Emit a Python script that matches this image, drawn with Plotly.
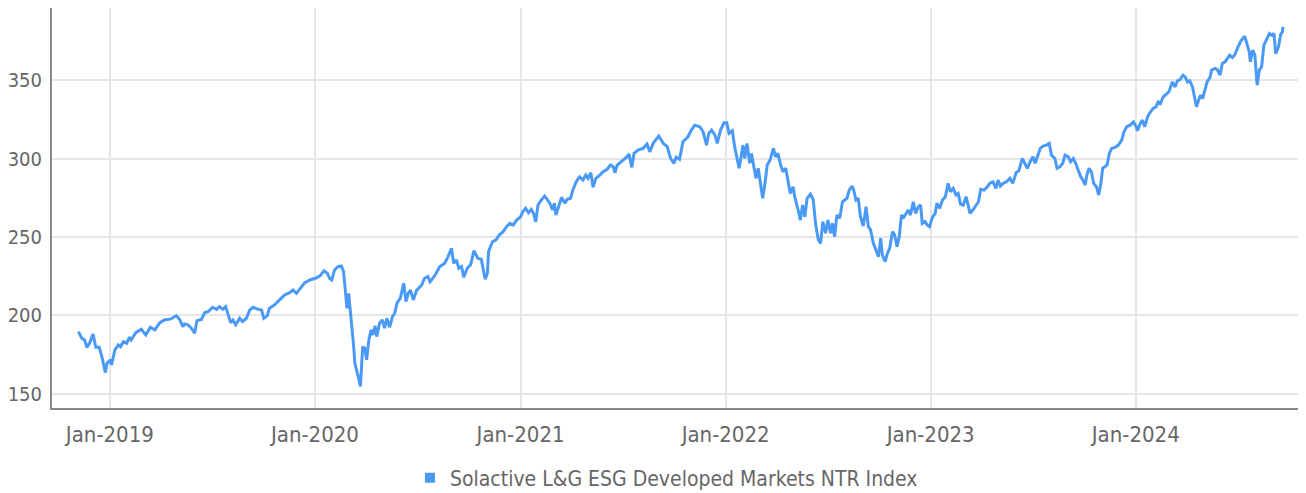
import plotly.graph_objects as go

SERIES_NAME = "Solactive L&G ESG Developed Markets NTR Index"

dates = [
    "2018-11-06", "2018-11-12", "2018-11-17", "2018-11-21", "2018-11-26", "2018-12-02", "2018-12-07", "2018-12-13",
    "2018-12-17", "2018-12-21", "2018-12-24", "2018-12-27", "2019-01-02", "2019-01-04", "2019-01-10", "2019-01-16",
    "2019-01-20", "2019-01-25", "2019-01-31", "2019-02-05", "2019-02-08", "2019-02-16", "2019-02-26", "2019-03-06",
    "2019-03-14", "2019-03-22", "2019-03-31", "2019-04-08", "2019-04-20", "2019-04-29", "2019-05-05", "2019-05-11",
    "2019-05-14", "2019-05-20", "2019-05-26", "2019-06-01", "2019-06-05", "2019-06-13", "2019-06-19", "2019-06-25",
    "2019-07-03", "2019-07-10", "2019-07-15", "2019-07-21", "2019-07-26", "2019-08-04", "2019-08-08", "2019-08-13",
    "2019-08-20", "2019-08-25", "2019-09-01", "2019-09-07", "2019-09-13", "2019-09-22",
    "2019-09-28", "2019-10-02", "2019-10-08", "2019-10-12", "2019-10-21", "2019-10-30", "2019-11-08", "2019-11-17",
    "2019-11-23", "2019-11-29", "2019-12-05", "2019-12-14", "2019-12-23", "2020-01-02", "2020-01-10", "2020-01-17",
    "2020-01-23", "2020-01-27", "2020-01-31", "2020-02-05", "2020-02-11", "2020-02-17", "2020-02-21", "2020-02-24",
    "2020-02-27", "2020-03-01", "2020-03-04", "2020-03-07", "2020-03-10", "2020-03-12", "2020-03-15", "2020-03-18",
    "2020-03-22", "2020-03-24", "2020-03-26", "2020-03-30", "2020-04-02", "2020-04-06", "2020-04-10", "2020-04-13",
    "2020-04-17", "2020-04-20", "2020-04-25", "2020-04-30", "2020-05-04", "2020-05-08", "2020-05-13", "2020-05-18",
    "2020-05-22", "2020-05-26", "2020-06-01", "2020-06-07", "2020-06-11", "2020-06-15", "2020-06-19", "2020-06-24",
    "2020-06-30",
    "2020-07-09", "2020-07-14", "2020-07-20", "2020-07-24", "2020-08-01", "2020-08-10", "2020-08-19", "2020-08-25",
    "2020-08-31", "2020-09-04", "2020-09-09", "2020-09-13", "2020-09-18", "2020-09-22", "2020-09-28", "2020-10-04",
    "2020-10-10", "2020-10-17", "2020-10-23", "2020-10-27", "2020-10-30", "2020-11-03", "2020-11-05", "2020-11-12",
    "2020-11-18", "2020-11-24", "2020-12-01", "2020-12-07", "2020-12-13", "2020-12-19", "2020-12-25", "2021-01-01",
    "2021-01-05", "2021-01-10", "2021-01-15", "2021-01-20", "2021-01-24", "2021-01-28", "2021-02-01", "2021-02-07",
    "2021-02-13", "2021-02-18", "2021-02-22", "2021-02-27", "2021-03-02", "2021-03-05", "2021-03-10", "2021-03-15",
    "2021-03-21", "2021-03-25", "2021-03-31",
    "2021-04-04", "2021-04-10", "2021-04-16", "2021-04-22", "2021-04-27", "2021-05-01", "2021-05-06", "2021-05-10",
    "2021-05-15", "2021-05-22", "2021-05-28", "2021-06-04", "2021-06-10", "2021-06-15", "2021-06-18", "2021-06-22",
    "2021-06-28", "2021-07-04", "2021-07-09", "2021-07-13", "2021-07-18", "2021-07-22", "2021-07-29", "2021-08-07",
    "2021-08-14", "2021-08-19", "2021-08-25", "2021-09-04", "2021-09-12", "2021-09-19", "2021-09-25", "2021-10-01",
    "2021-10-05", "2021-10-11", "2021-10-17", "2021-10-26", "2021-11-01", "2021-11-07", "2021-11-16", "2021-11-22",
    "2021-11-28", "2021-12-02", "2021-12-07", "2021-12-13", "2021-12-17", "2021-12-23", "2021-12-29", "2022-01-03",
    "2022-01-07", "2022-01-13", "2022-01-17", "2022-01-25",
    "2022-02-01", "2022-02-04", "2022-02-08", "2022-02-13", "2022-02-16", "2022-02-20", "2022-02-24", "2022-02-28",
    "2022-03-04", "2022-03-08", "2022-03-12", "2022-03-16", "2022-03-21", "2022-03-27", "2022-03-31", "2022-04-04",
    "2022-04-09", "2022-04-13", "2022-04-18", "2022-04-22", "2022-04-26", "2022-05-01", "2022-05-04", "2022-05-10",
    "2022-05-14", "2022-05-18", "2022-05-22", "2022-05-26", "2022-06-01", "2022-06-06", "2022-06-10", "2022-06-15",
    "2022-06-19", "2022-06-23", "2022-06-28", "2022-07-02", "2022-07-07", "2022-07-10", "2022-07-14", "2022-07-18",
    "2022-07-23", "2022-07-28", "2022-08-01", "2022-08-05", "2022-08-09", "2022-08-14", "2022-08-17", "2022-08-21",
    "2022-08-25", "2022-08-29", "2022-09-03", "2022-09-08", "2022-09-12", "2022-09-16", "2022-09-21", "2022-09-26",
    "2022-09-30", "2022-10-04", "2022-10-07", "2022-10-12", "2022-10-16", "2022-10-20",
    "2022-10-25", "2022-10-29", "2022-11-02", "2022-11-06", "2022-11-10", "2022-11-14", "2022-11-19", "2022-11-22",
    "2022-11-26", "2022-12-01", "2022-12-05", "2022-12-10", "2022-12-14", "2022-12-17", "2022-12-22", "2022-12-26",
    "2022-12-30", "2023-01-04", "2023-01-09", "2023-01-12", "2023-01-17", "2023-01-22", "2023-01-27", "2023-02-01",
    "2023-02-05", "2023-02-10", "2023-02-15", "2023-02-19", "2023-02-23", "2023-02-28", "2023-03-05", "2023-03-09",
    "2023-03-12", "2023-03-17", "2023-03-23", "2023-03-27", "2023-03-31", "2023-04-06", "2023-04-12", "2023-04-16",
    "2023-04-22", "2023-04-27", "2023-05-01", "2023-05-05", "2023-05-10", "2023-05-16", "2023-05-22", "2023-05-27",
    "2023-06-02", "2023-06-07", "2023-06-13", "2023-06-18", "2023-06-22", "2023-06-27", "2023-07-02", "2023-07-06",
    "2023-07-10", "2023-07-15", "2023-07-20", "2023-07-26", "2023-07-31",
    "2023-08-04", "2023-08-10", "2023-08-14", "2023-08-19", "2023-08-24", "2023-08-28", "2023-09-03", "2023-09-07",
    "2023-09-12", "2023-09-16", "2023-09-21", "2023-09-25", "2023-09-29", "2023-10-03", "2023-10-06", "2023-10-10",
    "2023-10-14", "2023-10-18", "2023-10-23", "2023-10-27", "2023-10-31", "2023-11-03", "2023-11-07", "2023-11-11",
    "2023-11-15", "2023-11-19", "2023-11-25", "2023-12-01", "2023-12-07", "2023-12-11", "2023-12-16", "2023-12-22",
    "2023-12-28", "2024-01-02", "2024-01-04", "2024-01-09", "2024-01-13", "2024-01-17", "2024-01-22", "2024-01-26",
    "2024-02-01", "2024-02-06", "2024-02-10", "2024-02-14", "2024-02-19", "2024-02-25", "2024-02-29",
    "2024-03-06", "2024-03-11", "2024-03-15", "2024-03-20", "2024-03-25", "2024-03-29", "2024-04-02", "2024-04-06",
    "2024-04-11", "2024-04-15", "2024-04-18", "2024-04-22", "2024-04-25", "2024-04-29", "2024-05-03", "2024-05-07",
    "2024-05-12", "2024-05-15", "2024-05-21", "2024-05-25", "2024-05-30", "2024-06-03", "2024-06-08", "2024-06-12",
    "2024-06-16", "2024-06-21", "2024-06-25", "2024-07-01", "2024-07-07", "2024-07-13", "2024-07-17", "2024-07-21",
    "2024-07-23", "2024-07-27", "2024-07-31", "2024-08-04", "2024-08-08", "2024-08-12", "2024-08-16", "2024-08-21",
    "2024-08-26", "2024-08-30", "2024-09-03", "2024-09-06", "2024-09-11", "2024-09-15", "2024-09-18", "2024-09-19",
]

values = [
    189.7, 185.5, 184.4, 179.7, 182.3, 188.2, 179.7, 179.7,
    174.8, 167.4, 163.6, 169.6, 171.7, 168.5, 178.0, 181.2,
    180.1, 183.3, 182.3, 186.1, 184.4, 189.0, 191.2, 187.6,
    192.5, 190.8, 195.4, 197.1, 197.8, 199.9, 197.5, 192.9,
    194.6, 194.0, 191.9, 188.7, 196.7, 197.5, 201.8, 202.4,
    205.2, 203.9, 205.6, 203.9, 205.6, 195.4, 197.1, 194.0,
    198.2, 196.1, 198.2, 203.5, 205.2, 203.9,
    203.5, 198.2, 199.7, 204.6, 206.7, 209.9, 213.1, 214.5,
    216.2, 214.1, 216.7, 220.9, 222.6, 223.7, 225.2, 228.5,
    226.9, 223.7, 222.6, 229.0, 231.1, 231.5, 227.9, 216.2,
    204.6, 214.1, 203.5, 191.9, 180.1, 169.6, 164.3, 161.0,
    154.7, 167.4, 180.1, 179.0, 171.7, 184.4, 190.8, 187.6,
    193.3, 186.5, 195.0, 197.1, 191.9, 198.2, 192.5, 199.3,
    201.4, 207.8, 211.0, 220.5, 208.8, 214.1, 216.2, 209.9,
    216.0,
    219.4, 223.7, 224.8, 221.5, 225.2, 231.1, 233.3, 237.5,
    242.8, 233.3, 235.4, 230.1, 231.1, 224.3, 230.1, 232.2,
    241.3, 236.4, 235.8, 229.0, 223.1, 226.9, 240.7, 247.0,
    248.1, 251.3, 253.4, 256.6, 258.7, 257.6, 260.8, 262.9,
    266.1, 268.3, 265.5, 267.6, 265.1, 259.7, 270.4, 273.6,
    276.1, 273.6, 271.5, 267.2, 271.5, 264.0, 269.3, 275.3,
    271.5, 274.0, 274.7,
    279.9, 285.2, 288.4, 286.3, 289.5, 287.4, 291.0, 281.7,
    287.4, 289.5, 291.6, 293.1, 295.9, 294.8, 291.0, 295.9,
    298.0, 299.5, 301.1, 302.9, 294.4, 303.3, 305.4, 306.5,
    309.2, 304.3, 309.7, 314.3, 309.7, 307.6, 300.1, 297.0,
    300.8, 299.5, 310.7, 313.9, 318.2, 321.3, 320.3, 317.1,
    308.6, 316.1, 318.2, 315.0, 309.7, 318.2, 322.8, 322.8,
    316.1, 317.7, 307.6, 293.8,
    308.6, 300.1, 309.7, 297.0, 303.3, 293.8, 287.4, 293.8,
    284.2, 274.7, 284.2, 295.9, 299.0, 306.5, 301.1, 303.3,
    295.9, 291.6, 293.8, 284.2, 277.8, 282.0, 275.7, 267.2,
    260.8, 270.4, 262.9, 274.7, 277.4, 273.6, 258.7, 248.1,
    246.0, 259.8, 252.4, 260.8, 252.4, 258.7, 250.2, 264.0,
    261.9, 272.5, 273.6, 274.7, 279.9, 282.5, 279.9, 273.6,
    274.7, 262.9, 257.0, 269.3, 256.6, 254.5, 246.0, 240.6,
    237.5, 249.2, 238.5, 234.3, 239.6, 242.8,
    253.4, 251.3, 243.8, 250.2, 264.0, 262.5, 265.1, 267.2,
    264.0, 272.5, 265.1, 269.3, 270.4, 258.7, 259.8, 257.6,
    256.6, 262.5, 265.1, 271.5, 268.3, 273.6, 275.7, 284.2,
    278.9, 281.0, 276.8, 277.8, 271.0, 270.4, 275.7, 270.4,
    265.1, 267.2, 270.4, 272.5, 280.4, 279.9, 282.0, 284.2,
    285.2, 281.0, 286.3, 282.5, 284.2, 285.2, 287.4, 284.2,
    291.0, 292.3, 300.1, 297.0, 293.8, 298.0, 301.1, 297.0,
    301.1, 306.5, 308.0, 308.6, 309.7,
    302.2, 300.1, 293.8, 294.8, 297.0, 302.2, 301.1, 298.0,
    300.1, 297.0, 292.7, 288.4, 286.3, 283.1, 289.5, 293.8,
    291.6, 284.2, 282.0, 276.8, 284.2, 293.8, 294.8, 295.9,
    303.3, 306.5, 307.1, 308.6, 311.8, 317.1, 320.3, 321.3,
    323.4, 320.3, 317.7, 322.4, 324.5, 320.3, 326.6, 329.2,
    332.0, 333.0, 336.2, 335.2, 339.4, 341.5, 342.5,
    348.9, 345.7, 349.6, 350.4, 353.2, 352.1, 348.9, 349.6,
    345.7, 338.3, 333.0, 337.3, 340.4, 338.3, 343.6, 348.9,
    351.7, 356.4, 357.5, 356.8, 353.2, 360.6, 361.7, 363.8,
    365.9, 364.5, 365.9, 371.2, 375.5, 378.0, 372.3, 368.0,
    361.7, 369.1, 365.9, 346.8, 356.4, 358.5, 372.3, 376.6,
    379.7, 378.7, 379.7, 366.9, 371.2, 379.3, 380.8, 384.0,
]

y_ticks = [150, 200, 250, 300, 350]
x_range = ["2018-09-20", "2024-10-30"]
y_range = [141, 396]

LINE_COLOR = "#4a9af5"
FONT = "DejaVu Sans Condensed, Roboto, sans-serif"
TEXT_COLOR = "#666666"
GRID_COLOR = "#e6e6e6"
AXIS_COLOR = "#8a8a8a"

fig = go.Figure()
fig.add_trace(go.Scatter(
    x=dates, y=values, mode="lines", name=SERIES_NAME,
    line=dict(color=LINE_COLOR, width=3), showlegend=False,
))
fig.add_trace(go.Scatter(
    x=[None], y=[None], mode="markers", name=SERIES_NAME,
    marker=dict(color=LINE_COLOR, symbol="square", size=10), showlegend=True,
))

# page body has an 8px margin; figure sized so the plot lands where the reference has it
fig.update_layout(
    width=1298, height=485,
    margin=dict(l=44, r=0, t=0, b=85, autoexpand=False),
    paper_bgcolor="white", plot_bgcolor="white",
    font=dict(family=FONT, size=22, color=TEXT_COLOR),
    legend=dict(orientation="h", x=0.49, xanchor="center", y=-0.175, yanchor="middle",
                font=dict(family=FONT, size=21, color=TEXT_COLOR),
                itemwidth=30, tracegroupgap=0),
    showlegend=True,
)
fig.update_xaxes(
    type="date", range=x_range, dtick="M12", tick0="2019-01-01", tickformat="%b-%Y",
    showgrid=True, gridcolor=GRID_COLOR, gridwidth=2,
    showline=True, linecolor=AXIS_COLOR, linewidth=2,
    ticks="", ticklabelstandoff=6, zeroline=False, automargin=False,
    tickfont=dict(family=FONT, size=22, color=TEXT_COLOR),
)
fig.update_yaxes(
    range=y_range, tickvals=y_ticks,
    showgrid=True, gridcolor=GRID_COLOR, gridwidth=2,
    showline=True, linecolor=AXIS_COLOR, linewidth=2,
    ticks="", ticklabelstandoff=4, zeroline=False, automargin=False,
    tickfont=dict(family=FONT, size=20, color=TEXT_COLOR),
)

fig.write_html("out.html")
